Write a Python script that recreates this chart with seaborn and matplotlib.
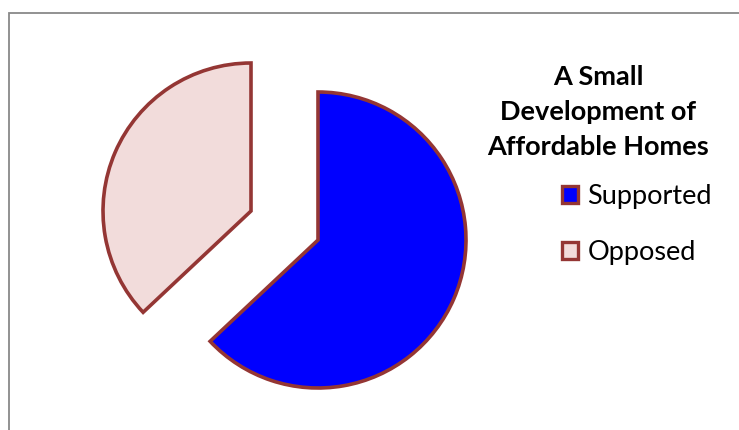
import matplotlib
matplotlib.use("Agg")
import matplotlib.pyplot as plt
from matplotlib.patches import Patch, Rectangle
import seaborn as sns

labels = ["Supported", "Opposed"]
values = [63, 37]
colors = ["#0000FF", "#F2DCDB"]
edge_color = "#943634"
title_text = "A Small\nDevelopment of\nAffordable Homes"

sns.set_theme(style="white")
plt.rcParams["font.family"] = ["Lato", "DejaVu Sans"]
plt.rcParams["text.color"] = "black"

W, H = 739, 430
fig = plt.figure(figsize=(W / 100, H / 100), dpi=100)
fig.patch.set_facecolor("white")

ax = fig.add_axes([0, 0, 1, 1])
wedges, _ = ax.pie(
    values,
    colors=colors,
    startangle=90,
    counterclock=False,
    explode=[0, 73],
    center=(318, H - 240),
    radius=148,
    wedgeprops=dict(edgecolor=edge_color, linewidth=2.6, joinstyle="miter"),
)
ax.set_xlim(0, W)
ax.set_ylim(0, H)
ax.set_aspect("equal")
ax.axis("off")

# chart border (gray, partially clipped)
fig.patches.append(Rectangle((8.5 / W, -0.1), 1.2, (H - 12.5) / H + 0.1,
                             transform=fig.transFigure, fill=False,
                             edgecolor="#898989", linewidth=1.3, zorder=0))

fig.text(598 / W, 1 - 65 / H, title_text, ha="center", va="top",
         fontsize=19.5, fontweight="bold", linespacing=1.56, color="black")

handles = [Patch(facecolor=c, edgecolor=edge_color, linewidth=2.4) for c in colors]
fig.legend(handles, labels, loc="upper left",
           bbox_to_anchor=(562 / W, 1 - 184 / H), frameon=False,
           fontsize=19.5, handlelength=0.58, handleheight=0.58,
           handletextpad=0.36, labelspacing=1.15, borderpad=0, borderaxespad=0,
           labelcolor="black")

fig.savefig("out.png", dpi=100)
